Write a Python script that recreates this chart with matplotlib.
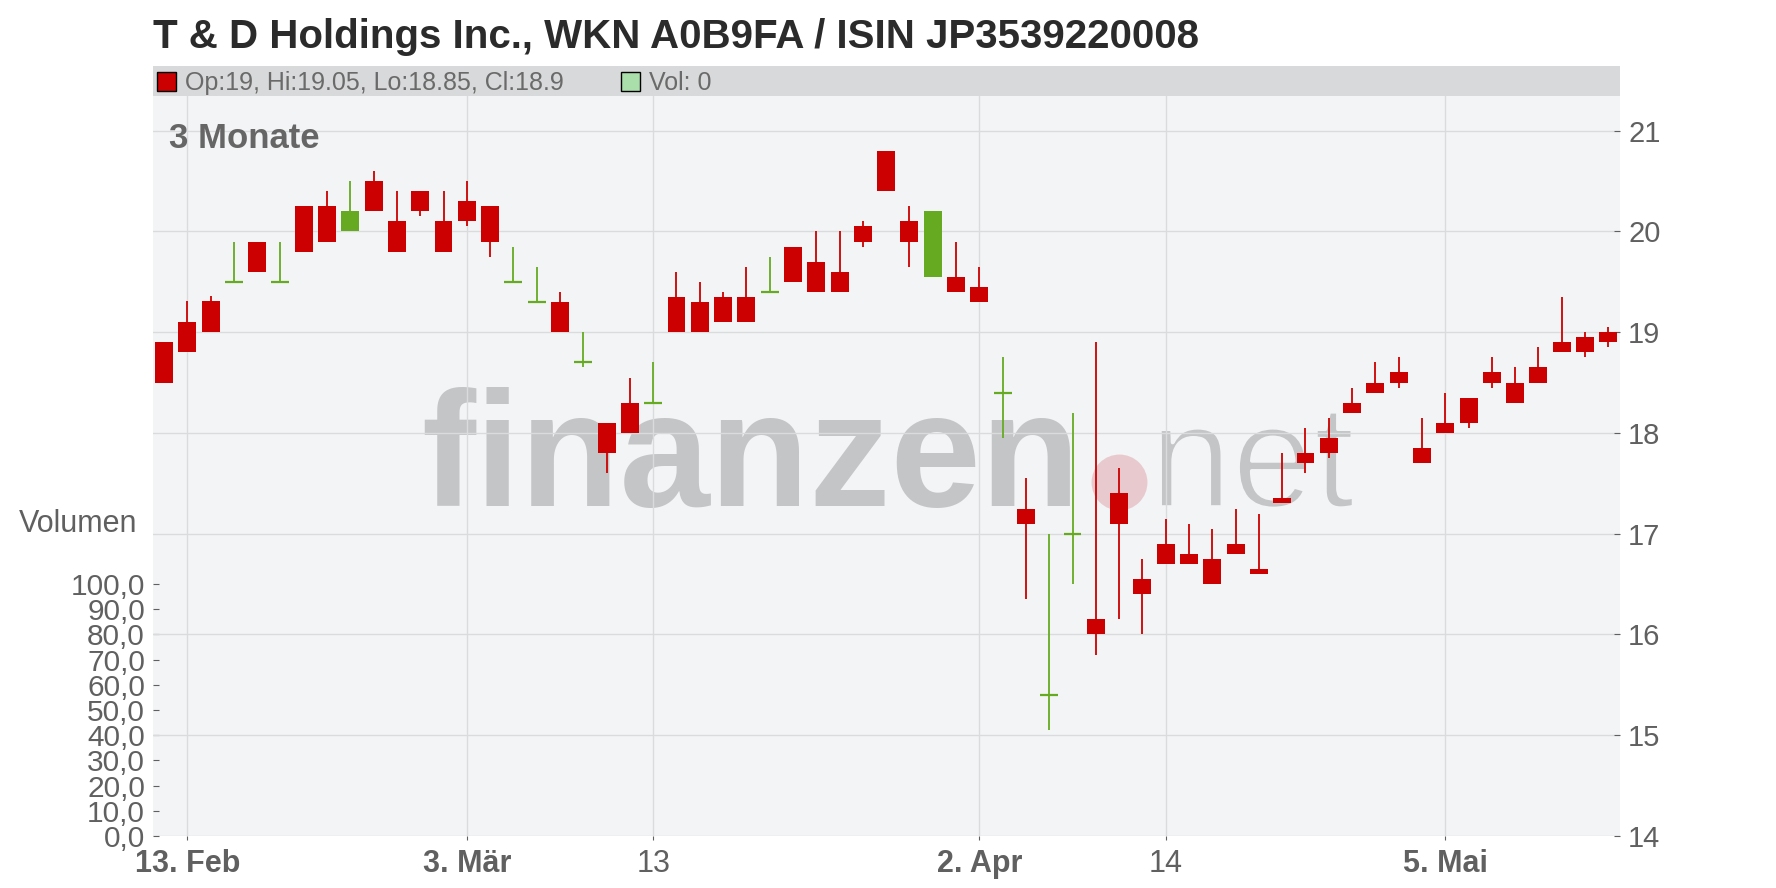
"""Kerzenchart T & D Holdings (3 Monate), Nachbau im finanzen.net-Stil."""
from __future__ import annotations

import matplotlib

matplotlib.use("Agg")
import matplotlib.patheffects as pe
import matplotlib.pyplot as plt
import numpy as np
from matplotlib.patches import Rectangle

plt.rcParams["font.family"] = ["Liberation Sans", "DejaVu Sans"]

TITLE = "T & D Holdings Inc., WKN A0B9FA / ISIN JP3539220008"

# OHLC je Handelstag (Index 0 = 12. Feb)
opens = [18.90, 19.10, 19.31, 19.50, 19.90, 19.50, 20.25, 20.25, 20.00, 20.50,
         20.10, 20.40, 20.10, 20.30, 20.25, 19.50, 19.30, 19.30, 18.70, 18.10,
         18.30, 18.30, 19.35, 19.30, 19.35, 19.35, 19.40, 19.85, 19.70, 19.60,
         20.05, 20.80, 20.10, 19.55, 19.55, 19.45, 18.40, 17.25, 15.40, 17.00,
         16.15, 17.40, 16.55, 16.90, 16.80, 16.75, 16.90, 16.65, 17.35, 17.80,
         17.95, 18.30, 18.50, 18.60, 17.85, 18.10, 18.35, 18.60, 18.50, 18.65,
         18.90, 18.95, 19.00]
highs = [18.90, 19.31, 19.36, 19.90, 19.90, 19.90, 20.25, 20.40, 20.50, 20.60,
         20.40, 20.40, 20.40, 20.50, 20.25, 19.85, 19.65, 19.40, 19.00, 18.10,
         18.55, 18.70, 19.60, 19.50, 19.40, 19.65, 19.75, 19.85, 20.00, 20.00,
         20.10, 20.80, 20.25, 20.20, 19.90, 19.65, 18.75, 17.55, 17.00, 18.20,
         18.90, 17.65, 16.75, 17.15, 17.10, 17.05, 17.25, 17.20, 17.80, 18.05,
         18.15, 18.45, 18.70, 18.75, 18.15, 18.40, 18.35, 18.75, 18.65, 18.85,
         19.35, 19.00, 19.05]
lows = [18.50, 18.80, 19.00, 19.50, 19.60, 19.50, 19.80, 19.90, 20.00, 20.20,
        19.80, 20.15, 19.80, 20.05, 19.75, 19.50, 19.30, 19.00, 18.65, 17.60,
        18.00, 18.30, 19.00, 19.00, 19.10, 19.10, 19.40, 19.50, 19.40, 19.40,
        19.85, 20.40, 19.65, 19.55, 19.40, 19.30, 17.95, 16.35, 15.05, 16.50,
        15.80, 16.15, 16.00, 16.70, 16.70, 16.50, 16.80, 16.60, 17.30, 17.60,
        17.75, 18.20, 18.40, 18.45, 17.70, 18.00, 18.05, 18.45, 18.30, 18.50,
        18.80, 18.75, 18.85]
closes = [18.50, 18.80, 19.00, 19.50, 19.60, 19.50, 19.80, 19.90, 20.20, 20.20,
          19.80, 20.20, 19.80, 20.10, 19.90, 19.50, 19.30, 19.00, 18.70, 17.80,
          18.00, 18.30, 19.00, 19.00, 19.10, 19.10, 19.40, 19.50, 19.40, 19.40,
          19.90, 20.40, 19.90, 20.20, 19.40, 19.30, 18.40, 17.10, 15.40, 17.00,
          16.00, 17.10, 16.40, 16.70, 16.70, 16.50, 16.80, 16.60, 17.30, 17.70,
          17.80, 18.20, 18.40, 18.50, 17.70, 18.00, 18.10, 18.50, 18.30, 18.50,
          18.80, 18.80, 18.90]
volumes = [0] * 63

tick_idx = [1, 13, 21, 35, 43, 55]
tick_labels = ["13. Feb", "3. Mär", "13", "2. Apr", "14", "5. Mai"]
tick_bold = [True, True, False, True, False, True]

price_ticks = [14, 15, 16, 17, 18, 19, 20, 21]
vol_ticks = [0, 10, 20, 30, 40, 50, 60, 70, 80, 90, 100]

RED = "#cc0000"
GREEN = "#66aa22"
GREY_TXT = "#606060"
BG = "#f3f4f6"
GRID = "#dadbdc"

W, H = 1776, 888


def fx(px: float) -> float:
    return px / W


def fy(py: float) -> float:
    return 1 - py / H


fig = plt.figure(figsize=(W / 100, H / 100), dpi=100)
fig.patch.set_facecolor("white")

# Plotfläche: x 153..1620, y 96..836 (Pixel)
ax = fig.add_axes([fx(153), fy(836), (1620 - 153) / W, (836 - 96) / H])
ax.set_facecolor(BG)
ax2 = ax.twinx()

x = np.arange(len(opens))
o = np.array(opens)
h = np.array(highs)
l = np.array(lows)
c = np.array(closes)
colors = np.where(c >= o, GREEN, RED)
body_w = 0.77

# Volumen (alle 0)
ax.bar(x, volumes, width=body_w, color="#aadeaa")

# Kerzen
ax2.vlines(x, l, h, colors=colors, lw=1.3, zorder=3)
solid = c != o
ax2.bar(x[solid], np.abs(c - o)[solid], bottom=np.minimum(o, c)[solid],
        width=body_w, color=colors[solid], linewidth=0, zorder=4)
doji = ~solid
ax2.hlines(o[doji], x[doji] - body_w / 2, x[doji] + body_w / 2,
           colors=colors[doji], lw=1.6, zorder=4)

ax.set_xlim(-0.47, 62.5)
ax2.set_ylim(14, 21.344)
ax.set_ylim(0, 293.6)

# Wasserzeichen
ax.text(0.1827, 0.4459, "finanzen", transform=ax.transAxes, fontsize=117,
        fontweight="bold", color="#c4c5c7", ha="left", va="baseline", zorder=1)
# "net" in duenner Schrift: normale Schrift, Rand mit Hintergrundfarbe abtragen
ax.text(0.6796, 0.4446, "net", transform=ax.transAxes, fontsize=106,
        fontweight="normal", color="#c4c5c7", ha="left", va="baseline",
        zorder=1, path_effects=[pe.Stroke(linewidth=2.6, foreground=BG)])
ax.scatter([0.6585], [0.4784], s=1620, transform=ax.transAxes,
           color="#e2b8bd", alpha=0.7, linewidths=0, zorder=1.2)

# Achsen / Gitter
ax.set_xticks(tick_idx)
ax.set_xticklabels(tick_labels)
for lab, bold in zip(ax.get_xticklabels(), tick_bold):
    lab.set_fontweight("bold" if bold else "normal")
ax.tick_params(axis="x", labelsize=22, colors=GREY_TXT, length=3, width=0.8,
               pad=6.5, direction="out")
ax.set_axisbelow("line")
ax.grid(axis="x", color=GRID, lw=1.0, zorder=1.5)

ax.set_yticks(vol_ticks)
ax.set_yticklabels([f"{v:.1f}".replace(".", ",") for v in vol_ticks])
ax.tick_params(axis="y", labelsize=21.5, colors=GREY_TXT, length=4, width=0.8,
               pad=5.8, direction="in")

ax2.set_yticks(price_ticks)
ax2.set_yticklabels([str(p) for p in price_ticks])
ax2.tick_params(axis="y", labelsize=21, colors=GREY_TXT, length=4, width=0.8,
                pad=5.8, direction="in")
ax2.set_axisbelow(True)
ax2.grid(axis="y", color=GRID, lw=1.0)

for a in (ax, ax2):
    for s in a.spines.values():
        s.set_visible(False)

ax2.text(0.0109, 0.9297, "3 Monate", transform=ax2.transAxes, fontsize=25,
         fontweight="bold", color="#666666", ha="left", va="baseline", zorder=5)

fig.text(fx(19), fy(532), "Volumen", fontsize=22, color=GREY_TXT,
         ha="left", va="baseline")

# Titel
fig.text(fx(153), fy(48), TITLE, fontsize=29, fontweight="bold",
         color="#2b2b2b", ha="left", va="baseline")

# Legendenleiste
bar_ax = fig.add_axes([fx(153), fy(96), (1620 - 153) / W, 30 / H])
bar_ax.set_facecolor("#d8d9da")
bar_ax.set_xticks([])
bar_ax.set_yticks([])
for s in bar_ax.spines.values():
    s.set_visible(False)

fig.add_artist(Rectangle((fx(157), fy(91)), 19 / W, 19 / H,
                         transform=fig.transFigure, facecolor=RED,
                         edgecolor="black", lw=1.0))
fig.text(fx(185), fy(90),
         f"Op:{opens[-1]:g}, Hi:{highs[-1]:g}, Lo:{lows[-1]:g}, Cl:{closes[-1]:g}",
         fontsize=18, color="#6a6a6a", ha="left", va="baseline")
fig.add_artist(Rectangle((fx(621), fy(91)), 19 / W, 19 / H,
                         transform=fig.transFigure, facecolor="#aadeaa",
                         edgecolor="black", lw=1.0))
fig.text(fx(649), fy(90), f"Vol: {volumes[-1]}", fontsize=18,
         color="#6a6a6a", ha="left", va="baseline")

fig.savefig("out.png", dpi=100)
plt.close(fig)
